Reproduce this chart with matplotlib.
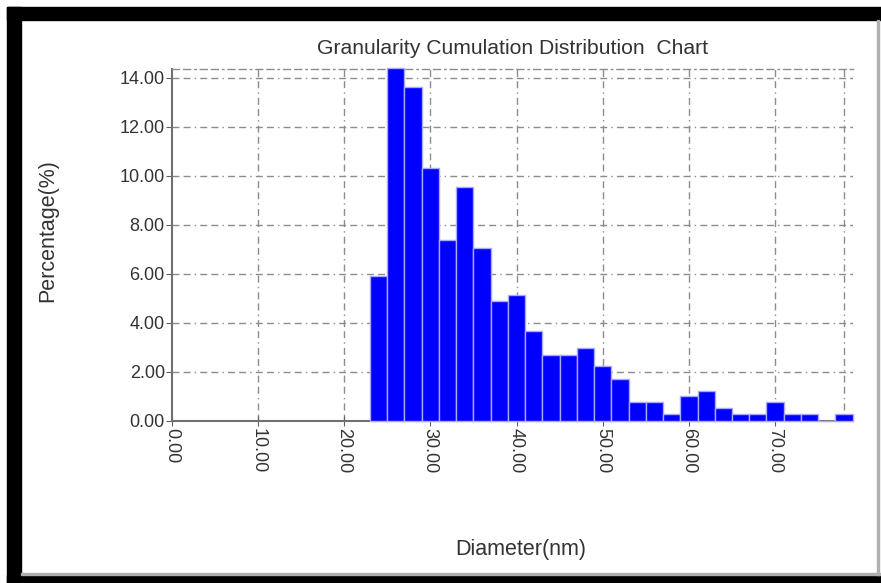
import matplotlib.pyplot as plt
from matplotlib.patches import Rectangle

# bin centres (nm) and percentage per bin
diameters = [24, 26, 28, 30, 32, 34, 36, 38, 40, 42, 44, 46, 48, 50,
             52, 54, 56, 58, 60, 62, 64, 66, 68, 70, 72, 74, 76, 78]
percentages = [5.90, 14.40, 13.60, 10.30, 7.35, 9.55, 7.06, 4.87, 5.14, 3.67,
               2.69, 2.69, 2.98, 2.22, 1.71, 0.76, 0.76, 0.28, 0.99, 1.22,
               0.49, 0.28, 0.28, 0.77, 0.28, 0.28, 0.00, 0.28]
bin_width = 2
x_ticks = [0, 10, 20, 30, 40, 50, 60, 70]
y_ticks = [0, 2, 4, 6, 8, 10, 12, 14]
x_max, y_max = 79, 14.35
frame_right = 78

plt.rcParams['font.family'] = ['Liberation Sans', 'DejaVu Sans']
grid_style = (0, (5, 3, 5, 3, 1, 3))
grid_color = '#8c8c8c'
text_color = '#333333'

fig = plt.figure(figsize=(8.81, 5.83), dpi=100)
W, H = 881, 583

# black picture frame (pixel coords converted to figure fraction)
def px_rect(x0, y0, x1, y1, color):
    fig.patches.append(Rectangle((x0 / W, 1 - y1 / H), (x1 - x0) / W, (y1 - y0) / H,
                                 transform=fig.transFigure, color=color, zorder=0))

px_rect(7, 7, W, 20, 'black')
px_rect(7, 7, 21, H, 'black')
px_rect(7, 575, W, H, 'black')
px_rect(21, 573, W, 575, '#b0b0b0')
px_rect(877, 20, 879, 575, '#b0b0b0')

ax_top, ax_bottom = 69, 420.5
ax = fig.add_axes([171.7 / W, 1 - ax_bottom / H, 681 / W, (ax_bottom - ax_top) / H])
ax.bar(diameters, percentages, width=bin_width, color='#0000ff',
       edgecolor='#a8a8ff', linewidth=1.0, zorder=3, clip_on=False)

ax.set_xlim(0, x_max)
ax.set_ylim(0, y_max)
ax.set_xticks(x_ticks)
ax.set_xticklabels([f'{v:.2f}' for v in x_ticks], rotation=-90, va='top')
ax.set_yticks(y_ticks)
ax.set_yticklabels([f'{v:.2f}' for v in y_ticks])
ax.tick_params(axis='x', direction='inout', length=7, colors='#606060',
               labelcolor=text_color, labelsize=13, pad=2)
ax.tick_params(axis='y', direction='out', length=4, colors='#606060',
               labelcolor=text_color, labelsize=13, pad=1)

for v in x_ticks[1:]:
    ax.axvline(v, color=grid_color, linestyle=grid_style, linewidth=1, zorder=1)
for v in y_ticks[1:]:
    ax.axhline(v, color=grid_color, linestyle=grid_style, linewidth=1, zorder=1)
ax.axvline(frame_right, color=grid_color, linestyle=grid_style, linewidth=1, zorder=1)

ax.spines['right'].set_visible(False)
ax.spines['top'].set_color(grid_color)
ax.spines['top'].set_linestyle(grid_style)
ax.spines['top'].set_linewidth(1)
for s in ['left', 'bottom']:
    ax.spines[s].set_color('#707070')
    ax.spines[s].set_linewidth(1.5)

fig.text(513 / W, 1 - 48 / H, 'Granularity Cumulation Distribution  Chart',
         ha='center', va='center', fontsize=15.2, color=text_color)
fig.text(521 / W, 1 - 550 / H, 'Diameter(nm)', ha='center', va='center',
         fontsize=15.5, color=text_color)
fig.text(48 / W, 1 - 231 / H, 'Percentage(%)', ha='center', va='center',
         rotation=90, fontsize=15.5, color=text_color)

fig.savefig('out.png', dpi=100)
